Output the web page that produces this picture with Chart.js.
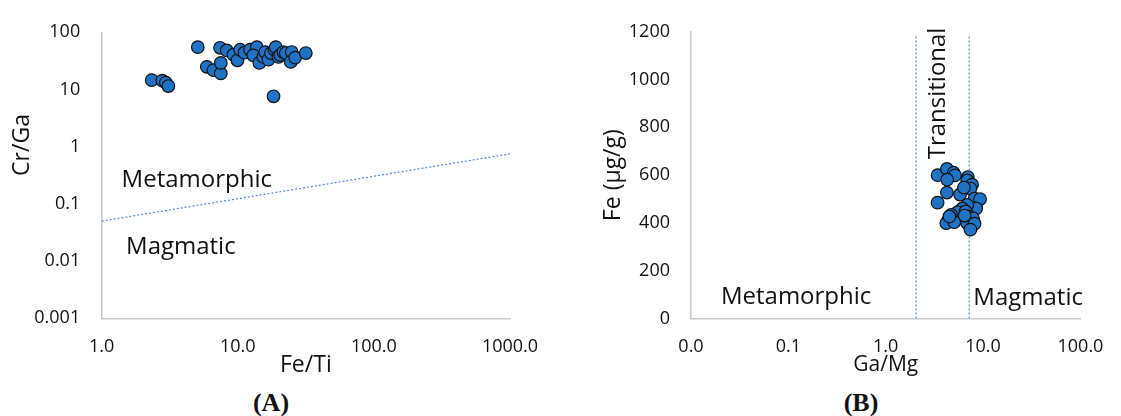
<!DOCTYPE html>
<html>
<head>
<meta charset="utf-8">
<script src="https://cdn.jsdelivr.net/npm/chart.js@4.4.0/dist/chart.umd.min.js"></script>
<style>
  body { margin: 0; background: #fff; width: 1121px; height: 416px; position: relative; overflow: hidden; }
  canvas { position: absolute; top: 0; }
  #chartA { left: 0; }
  #chartB { left: 560px; }
  .caption { position: absolute; top: 388px; width: 80px; text-align: center; line-height: 30px;
             font: bold 26px 'Liberation Serif', 'DejaVu Serif', serif; color: #111; }
</style>
</head>
<body>
<canvas id="chartA" width="560" height="380"></canvas>
<canvas id="chartB" width="561" height="380"></canvas>
<div class="caption" style="left:231px">(A)</div>
<div class="caption" style="left:821px">(B)</div>

<script>
// ---- panel A : Fe/Ti vs Cr/Ga ----
const feTi = [2.33, 2.79, 2.96, 3.09, 5.08, 5.92, 6.62, 7.5, 7.5, 7.41, 8.3, 9.28, 9.94, 10.4, 11.2,
              12.3, 13.8, 13.0, 14.4, 15.4, 15.9, 16.8, 17.5, 18.6, 19.0, 19.9, 20.5, 21.6, 22.5,
              24.9, 24.5, 26.4, 31.6, 18.3];
const crGa = [14.6, 14.3, 13.2, 11.5, 55.1, 24.9, 21.8, 19.1, 29.2, 53.6, 48.2, 40.6, 32.4, 49.5, 44,
              49.5, 55.1, 39.5, 29.2, 37.1, 45, 33.3, 43.4, 50, 55.1, 37.1, 40, 45.2, 43.4,
              45.2, 30.4, 36.1, 43.4, 7.6];
const boundaryFeTi = [1, 1000];
const boundaryCrGa = [0.05, 0.75];
const feTiTicks = [1, 10, 100, 1000];
const crGaTicks = [0.001, 0.01, 0.1, 1, 10, 100];

// ---- panel B : Ga/Mg vs Fe ----
const gaMg = [3.41, 4.25, 4.99, 5.14, 4.28, 4.25, 3.41, 5.80, 6.97, 6.87, 7.70, 7.41, 6.36, 8.18, 9.31,
              8.50, 6.87, 6.13, 5.47, 4.69, 4.41, 4.19, 5.06, 6.61, 7.13, 7.88, 6.87, 8.18, 7.41, 6.46, 4.51];
const fe = [600, 626, 610, 599, 581, 527, 485, 519, 592, 578, 560, 544, 548, 502, 500,
            461, 475, 461, 445, 434, 413, 399, 403, 448, 427, 420, 399, 397, 372, 431, 427];
const gaMgLimits = [2.05, 7.2];
const limitFeRange = [0, 1190];
const gaMgTicks = [0.01, 0.1, 1, 10, 100];

const textColor = '#111';
const axisGray = '#c8c8c8';
const pointBlue = '#1f72c4';
const lineBlue = '#4a8ad6';
const tickFont = { family: 'Open Sans', size: 18 };

const toXY = (xs, ys) => xs.map((v, i) => ({ x: v, y: ys[i] }));

// writes labels inside the plot, positioned by data value or canvas pixel
const textLabels = {
  id: 'textLabels',
  afterDatasetsDraw(chart, args, opts) {
    const { ctx, scales } = chart;
    ctx.save();
    ctx.fillStyle = textColor;
    for (const t of opts.items) {
      const px = t.px !== undefined ? t.px : scales.x.getPixelForValue(t.x);
      const py = t.py !== undefined ? t.py : scales.y.getPixelForValue(t.y);
      ctx.font = t.size + 'px "Open Sans"';
      ctx.textAlign = t.align || 'left';
      ctx.textBaseline = 'middle';
      ctx.translate(px, py);
      ctx.rotate(t.rotate || 0);
      ctx.fillText(t.text, 0, 0);
      ctx.setTransform(1, 0, 0, 1, 0, 0);
    }
    ctx.restore();
  }
};

function pointSet(data) {
  return {
    type: 'scatter',
    data: data,
    order: 0,
    pointRadius: 6.3,
    pointBackgroundColor: pointBlue,
    pointBorderColor: '#111',
    pointBorderWidth: 1.2
  };
}

function dottedLine(data) {
  return {
    type: 'line',
    data: data,
    order: 1,
    borderColor: lineBlue,
    borderWidth: 1.2,
    borderDash: [2, 2],
    pointRadius: 0,
    fill: false
  };
}

function axisBase() {
  return {
    grid: { display: false, drawTicks: false },
    border: { display: true, color: axisGray, width: 1.5 }
  };
}

new Chart(document.getElementById('chartA'), {
  type: 'scatter',
  data: {
    datasets: [
      pointSet(toXY(feTi, crGa)),
      dottedLine(toXY(boundaryFeTi, boundaryCrGa))
    ]
  },
  options: {
    responsive: false,
    animation: false,
    layout: { padding: { top: 28.3, right: 50, left: 0, bottom: 0 } },
    plugins: {
      legend: { display: false },
      tooltip: { enabled: false },
      textLabels: {
        items: [
          { text: 'Metamorphic', x: 1.40, y: 0.262, size: 24 },
          { text: 'Magmatic', x: 1.51, y: 0.0172, size: 24 },
          { text: 'Cr/Ga', px: 22, py: 145, size: 23, align: 'center', rotate: -Math.PI / 2 }
        ]
      }
    },
    scales: {
      x: {
        ...axisBase(),
        type: 'logarithmic', min: 1, max: 1000,
        afterBuildTicks: s => { s.ticks = feTiTicks.map(v => ({ value: v })); },
        afterFit: s => { s.height = 61.7; },
        ticks: { padding: 17.6, font: tickFont, color: textColor, maxRotation: 0,
                 callback: v => Number(v).toFixed(1) },
        title: { display: true, text: 'Fe/Ti', color: textColor,
                 font: { family: 'Open Sans', size: 23 }, padding: { top: 0, bottom: 1.2 } }
      },
      y: {
        ...axisBase(),
        type: 'logarithmic', min: 0.001, max: 100,
        afterBuildTicks: s => { s.ticks = crGaTicks.map(v => ({ value: v })); },
        afterFit: s => { s.width = 101.7; },
        ticks: { padding: 21.5, font: tickFont, color: textColor,
                 callback: v => String(v) }
      }
    }
  },
  plugins: [textLabels]
});

new Chart(document.getElementById('chartB'), {
  type: 'scatter',
  data: {
    datasets: [
      pointSet(toXY(gaMg, fe)),
      dottedLine(limitFeRange.map(v => ({ x: gaMgLimits[0], y: v }))),
      dottedLine(limitFeRange.map(v => ({ x: gaMgLimits[1], y: v })))
    ]
  },
  options: {
    responsive: false,
    animation: false,
    layout: { padding: { top: 27.5, right: 28, left: 0, bottom: 0 } },
    plugins: {
      legend: { display: false },
      tooltip: { enabled: false },
      textLabels: {
        items: [
          { text: 'Metamorphic', x: 0.0203, y: 88.7, size: 24 },
          { text: 'Magmatic', x: 7.94, y: 84.5, size: 24 },
          { text: 'Transitional', x: 3.46, y: 942, size: 24, align: 'center', rotate: -Math.PI / 2 }
        ]
      }
    },
    scales: {
      x: {
        ...axisBase(),
        type: 'logarithmic', min: 0.01, max: 100,
        afterBuildTicks: s => { s.ticks = gaMgTicks.map(v => ({ value: v })); },
        afterFit: s => { s.height = 61.5; },
        ticks: { padding: 17.6, font: tickFont, color: textColor, maxRotation: 0,
                 callback: v => Number(v).toFixed(1) },
        title: { display: true, text: 'Ga/Mg', color: textColor,
                 font: { family: 'Open Sans', size: 21 }, padding: { top: 0, bottom: 2.4 } }
      },
      y: {
        ...axisBase(),
        min: 0, max: 1200,
        afterFit: s => { s.width = 131; },
        ticks: { stepSize: 200, padding: 21, font: tickFont, color: textColor,
                 callback: v => String(v) },
        title: { display: true, text: 'Fe (µg/g)', color: textColor,
                 font: { family: 'Open Sans', size: 23 }, padding: { top: 39.2, bottom: 0 } }
      }
    }
  },
  plugins: [textLabels]
});
</script>
</body>
</html>
